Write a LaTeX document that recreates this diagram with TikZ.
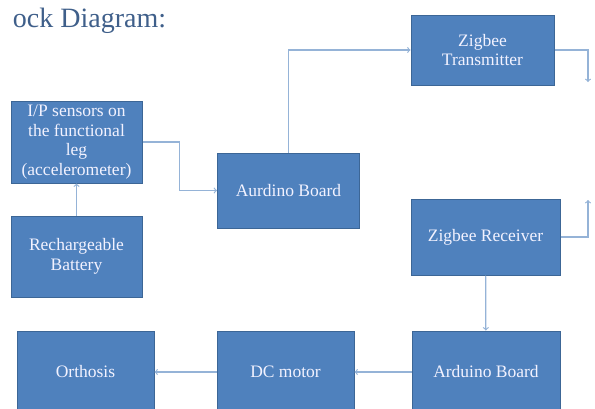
\documentclass[tikz,border=0pt]{standalone}
\usepackage{fontspec}
\setmainfont{Liberation Serif}
\usepackage{xcolor}
\usepackage{tikz}
\usetikzlibrary{positioning, arrows}

\definecolor{boxblue}{HTML}{4F81BD}
\definecolor{boxedge}{HTML}{3C6696}
\definecolor{linkblue}{HTML}{95B3D7}
\definecolor{titleblue}{HTML}{3F5F8A}

\tikzset{
    block/.style={draw=boxedge, line width=1pt, fill=boxblue, text=white!95!blue,
        align=center, inner sep=0pt, font=\fontsize{17.5}{19.7}\selectfont}
}

\begin{document}
\begin{tikzpicture}[x=1pt,y=-1pt,->,>=to,thick,draw=linkblue,line width=1.2pt]
    \useasboundingbox (0,0) rectangle (595,408);

    \node[anchor=base east, text=titleblue, font=\fontsize{28}{30}\selectfont] (title) at (170,27) {ock Diagram:};

    \node[block, minimum width=131pt, minimum height=82pt] (sensors) at (76.5,142) {I/P sensors on\\the functional\\leg\\(accelerometer)};
    \node[block, minimum width=131pt, minimum height=81pt] (battery) at (76.5,256.5) {Rechargeable\\Battery};
    \node[block, minimum width=142pt, minimum height=75pt] (aurdino) at (288.5,190.5) {Aurdino Board};
    \node[block, minimum width=143pt, minimum height=70pt] (transmitter) at (482.5,50) {Zigbee\\Transmitter};
    \node[block, minimum width=149pt, minimum height=76pt] (receiver) at (485.5,237) {Zigbee Receiver};
    \node[block, minimum width=148pt, minimum height=82pt] (arduino) at (486,372) {Arduino Board};
    \node[block, minimum width=137pt, minimum height=82pt] (motor) at (285.5,372) {DC motor};
    \node[block, minimum width=137pt, minimum height=82pt] (orthosis) at (85.5,372) {Orthosis};

    \coordinate (txout) at (588,82);
    \coordinate (rxin) at (588,200);

    \draw (battery) -- (sensors);
    \draw (sensors.east) -- ([xshift=37pt]sensors.east) |- (aurdino.west);
    \draw (aurdino.north) |- (transmitter.west);
    \draw (transmitter.east) -| (txout);
    \draw (receiver.east) -| (rxin);
    \draw (receiver) -- (arduino);
    \draw (arduino) -- (motor);
    \draw (motor) -- (orthosis);
\end{tikzpicture}
\end{document}
